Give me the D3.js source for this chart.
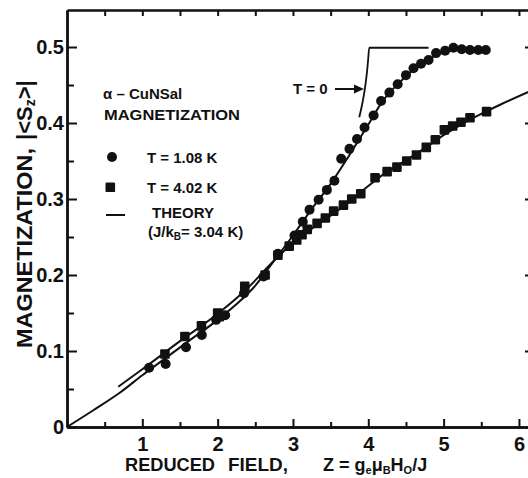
<!DOCTYPE html>
<html><head><meta charset="utf-8">
<script src="https://cdn.jsdelivr.net/npm/d3@7"></script>
<style>
html,body{margin:0;padding:0;background:#fff;}
svg{display:block;}
text{font-family:"Liberation Sans",Arial,sans-serif;font-weight:bold;fill:#111;}
</style></head>
<body>
<svg id="chart" width="528" height="478"></svg>
<script>
// ---------- data ----------
// T = 1.08 K, circles: [Z, |<Sz>|]
const circles108 = [
  [1.09,0.078],[1.31,0.083],[1.58,0.105],[1.79,0.121],[1.98,0.141],[2.10,0.147],
  [2.35,0.176],[2.61,0.198],[2.80,0.228],[3.02,0.252],[3.13,0.270],[3.22,0.286],
  [3.34,0.299],[3.45,0.312],[3.55,0.324],[3.64,0.353],[3.75,0.366],[3.85,0.379],
  [3.95,0.394],[4.07,0.410],[4.17,0.429],[4.28,0.440],[4.39,0.451],[4.50,0.463],
  [4.60,0.472],[4.70,0.478],[4.80,0.483],[4.90,0.492],[5.02,0.495],[5.13,0.499],
  [5.24,0.497],[5.35,0.496],[5.46,0.496],[5.56,0.496]
];
// T = 4.02 K, squares
const squares402 = [
  [1.30,0.096],[1.565,0.119],[1.785,0.133],[2.00,0.150],[2.02,0.145],[2.36,0.185],
  [2.63,0.200],[2.80,0.226],[2.95,0.238],[3.05,0.246],[3.12,0.253],[3.19,0.260],
  [3.32,0.268],[3.43,0.275],[3.54,0.284],[3.67,0.292],[3.78,0.300],[3.90,0.307],
  [4.09,0.328],[4.25,0.336],[4.38,0.342],[4.51,0.350],[4.64,0.358],[4.77,0.368],
  [4.89,0.378],[5.01,0.391],[5.12,0.396],[5.23,0.401],[5.35,0.407],[5.57,0.415]
];
// theory curves (J/kB = 3.04 K)
const theory108 = [
  [0,0],[0.35,0.022],[0.7,0.045],[1.0,0.068],[1.3,0.090],[1.6,0.112],[2.0,0.141],
  [2.3,0.166],[2.5,0.186],[2.75,0.219],[3.0,0.252],[3.25,0.287],[3.5,0.320],
  [3.75,0.358],[4.0,0.398],[4.2,0.430],[4.4,0.452],[4.6,0.470],[4.8,0.484],
  [5.0,0.493],[5.2,0.497],[5.55,0.498]
];
const theory402 = [
  [0.68,0.053],[1.0,0.076],[1.5,0.113],[2.0,0.149],[2.4,0.183],[2.75,0.219],
  [3.0,0.242],[3.25,0.261],[3.5,0.278],[3.75,0.296],[4.0,0.317],[4.25,0.336],
  [4.5,0.351],[4.75,0.367],[5.0,0.384],[5.25,0.399],[5.5,0.412],[5.75,0.424],[6.13,0.441]
];
// T = 0 curve
const theoryT0 = [
  [3.88,0.4075],[3.925,0.428],[3.956,0.446],[3.978,0.463],[3.996,0.481],[4.013,0.499],[4.80,0.499]
];
// ticks
const xTickValues = [1,2,3,4,5,6];
const xTickLabels = ["1","2","3","4","5","6"];
const xMinorTicks = [0.5,1.5,2.5,3.5,4.5,5.5];
const yTickValues = [0,0.1,0.2,0.3,0.4,0.5];
const yTickLabels = ["0","0.1","0.2","0.3","0.4","0.5"];
const yMinorTicks = [0.05,0.15,0.25,0.35,0.45];

// ---------- layout ----------
const svg = d3.select("#chart");
const x = d3.scaleLinear().domain([0, 6.16]).range([67, 531]);
const y = d3.scaleLinear().domain([0, 0.5487]).range([427, 10]);

const axisStroke = 2.4;
function styleAxis(g){
  g.selectAll("path.domain").attr("stroke","#111").attr("stroke-width",axisStroke);
  g.selectAll(".tick line").attr("stroke","#111").attr("stroke-width",2);
}

// minor ticks first
svg.append("g").attr("transform","translate(0,427)")
  .call(d3.axisBottom(x).tickValues(xMinorTicks).tickSizeInner(-5).tickSizeOuter(0).tickFormat(""))
  .call(styleAxis);
svg.append("g").attr("transform","translate(67,0)")
  .call(d3.axisLeft(y).tickValues(yMinorTicks).tickSizeInner(-7).tickSizeOuter(0).tickFormat(""))
  .call(styleAxis);

// bottom axis
const gx = svg.append("g").attr("transform","translate(0,427)")
  .call(d3.axisBottom(x).tickValues(xTickValues).tickSizeInner(-8).tickSizeOuter(0).tickPadding(10)
    .tickFormat((d,i)=>xTickLabels[i]))
  .call(styleAxis);
gx.selectAll(".tick text").attr("font-size",20).attr("fill","#111")
  .attr("font-family",'"Liberation Sans",Arial,sans-serif').attr("font-weight","bold");

// left axis
const gy = svg.append("g").attr("transform","translate(67,0)")
  .call(d3.axisLeft(y).tickValues(yTickValues).tickSizeInner(-10).tickSizeOuter(0).tickPadding(3)
    .tickFormat((d,i)=>yTickLabels[i]))
  .call(styleAxis);
gy.selectAll(".tick text").attr("font-size",20).attr("fill","#111")
  .attr("font-family",'"Liberation Sans",Arial,sans-serif').attr("font-weight","bold");

// top axis
svg.append("g").attr("transform","translate(0,10)")
  .call(d3.axisTop(x).tickValues(d3.merge([xMinorTicks,xTickValues]).sort()).tickSizeInner(-6).tickSizeOuter(0).tickFormat(""))
  .call(styleAxis);
// right axis
svg.append("g").attr("transform","translate(531,0)")
  .call(d3.axisRight(y).tickValues([0.1,0.2,0.3,0.4,0.5]).tickSizeInner(-6).tickSizeOuter(0).tickFormat(""))
  .call(styleAxis);

// ---------- curves ----------
const line = d3.line().x(d=>x(d[0])).y(d=>y(d[1])).curve(d3.curveMonotoneX);
svg.append("path").datum(theory108).attr("d",line)
  .attr("fill","none").attr("stroke","#111").attr("stroke-width",2);
svg.append("path").datum(theory402).attr("d",line)
  .attr("fill","none").attr("stroke","#111").attr("stroke-width",2);
svg.append("path").datum(theoryT0).attr("d",line)
  .attr("fill","none").attr("stroke","#111").attr("stroke-width",1.8);

// ---------- points ----------
svg.append("g").selectAll("rect").data(squares402).join("rect")
  .attr("x",d=>x(d[0])-4.8).attr("y",d=>y(d[1])-4.8)
  .attr("width",9.6).attr("height",9.6).attr("rx",1.2).attr("fill","#111");
svg.append("g").selectAll("circle").data(circles108).join("circle")
  .attr("cx",d=>x(d[0])).attr("cy",d=>y(d[1])).attr("r",5).attr("fill","#111");

// ---------- T = 0 annotation ----------
svg.append("text").attr("x",293).attr("y",94).attr("font-size",15).text("T = 0");
svg.append("line").attr("x1",335).attr("y1",89).attr("x2",355).attr("y2",89)
  .attr("stroke","#111").attr("stroke-width",2);
svg.append("path").attr("d","M354,84.5 L364,89 L354,93.5 Z").attr("fill","#111");

// ---------- legend ----------
const lg = svg.append("g").attr("font-size",15);
lg.append("text").attr("x",103).attr("y",99).text("α – CuNSal");
lg.append("text").attr("x",104).attr("y",120).attr("textLength",136).attr("lengthAdjust","spacingAndGlyphs").text("MAGNETIZATION");
lg.append("circle").attr("cx",112).attr("cy",157).attr("r",5).attr("fill","#111");
lg.append("text").attr("x",147).attr("y",163).text("T = 1.08 K");
lg.append("rect").attr("x",105.5).attr("y",182.5).attr("width",9.6).attr("height",9.6).attr("rx",1.2).attr("fill","#111");
lg.append("text").attr("x",147).attr("y",193).text("T = 4.02 K");
lg.append("line").attr("x1",106).attr("x2",125).attr("y1",215).attr("y2",215).attr("stroke","#111").attr("stroke-width",2);
lg.append("text").attr("x",152).attr("y",218).text("THEORY");
const tj = lg.append("text").attr("x",148).attr("y",237);
tj.append("tspan").text("(J/k");
tj.append("tspan").attr("font-size",10).attr("dy",3).text("B");
tj.append("tspan").attr("dy",-3).text("= 3.04 K)");

// ---------- axis titles ----------
svg.append("text").attr("x",125).attr("y",471).attr("font-size",18)
  .attr("textLength",90).attr("lengthAdjust","spacingAndGlyphs").text("REDUCED");
svg.append("text").attr("x",228).attr("y",471).attr("font-size",18)
  .attr("textLength",60).attr("lengthAdjust","spacingAndGlyphs").text("FIELD,");
const zt = svg.append("text").attr("x",323).attr("y",471).attr("font-size",18);
zt.append("tspan").text("Z = g");
zt.append("tspan").attr("font-size",11).attr("dy",3).text("e");
zt.append("tspan").attr("dy",-3).text("μ");
zt.append("tspan").attr("font-size",11).attr("dy",3).text("B");
zt.append("tspan").attr("dy",-3).text("H");
zt.append("tspan").attr("font-size",11).attr("dy",3).text("O");
zt.append("tspan").attr("dy",-3).text("/J");

const yt = svg.append("g").attr("transform","translate(32,348) rotate(-90)");
yt.append("text").attr("x",0).attr("y",0).attr("font-size",22)
  .attr("textLength",200).attr("lengthAdjust","spacingAndGlyphs").text("MAGNETIZATION,");
const ys = yt.append("text").attr("x",208).attr("y",0).attr("font-size",22);
ys.append("tspan").text("|<S");
ys.append("tspan").attr("font-size",14).attr("dy",3).text("z");
ys.append("tspan").attr("dy",-3).text(">|");
</script>
</body></html>
